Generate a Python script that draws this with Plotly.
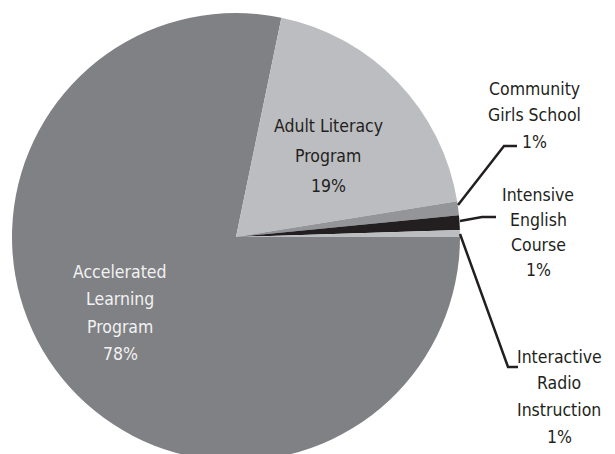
import plotly.graph_objects as go

# slices, clockwise from 3 o'clock
programs = ["Accelerated Learning Program", "Adult Literacy Program",
            "Community Girls School", "Intensive English Course",
            "Interactive Radio Instruction"]
shares = [78.25, 19.2, 1.0, 1.05, 0.5]
colors = ["#808184", "#bcbdc0", "#939598", "#231f20", "#bcbdc0"]

label_lines = [["Accelerated", "Learning", "Program", "78%"],
               ["Adult Literacy", "Program", "19%"],
               ["Community", "Girls School", "1%"],
               ["Intensive", "English", "Course", "1%"],
               ["Interactive", "Radio", "Instruction", "1%"]]

font = "DejaVu Sans Condensed, sans-serif"

# page sits 8px in from the window corner; everything below is in window pixels
W, H = 607, 460
OFF = 8

fig = go.Figure()
fig.add_trace(go.Pie(labels=programs, values=shares, sort=False,
                     direction="clockwise", rotation=90,
                     marker=dict(colors=colors, line=dict(width=0)),
                     textinfo="none", hoverinfo="label+percent",
                     domain=dict(x=[(12 - OFF) / W, (460 - OFF) / W],
                                 y=[(OFF + H - 461) / H, (OFF + H - 13) / H]),
                     showlegend=False))

# label blocks: centre x, centre of first line, line spacing
lab_x = [120, 328, 534, 538, 559]
lab_top = [272, 125.8, 89, 195, 356.7]
lab_gap = [27.3, 30, 26.3, 25, 26.7]
lab_col = ["#f2f2f2", "#231f20", "#231f20", "#231f20", "#231f20"]
for lines, x, t, g, c in zip(label_lines, lab_x, lab_top, lab_gap, lab_col):
    for i, line in enumerate(lines):
        fig.add_annotation(x=x, y=t + i * g, text=line, showarrow=False,
                           xref="x", yref="y", yanchor="middle",
                           font=dict(family=font, size=17.5, color=c))

# leader lines for the small slices
leaders = ["M 458,205 L 504,146 L 517,146",
           "M 460,221 L 482,217 L 496,217",
           "M 460,234 L 508,367 L 518,367"]
for p in leaders:
    fig.add_shape(type="path", path=p, xref="x", yref="y",
                  line=dict(color="#231f20", width=2.5))

fig.update_xaxes(range=[OFF, OFF + W], visible=False, fixedrange=True)
fig.update_yaxes(range=[OFF + H, OFF], visible=False, fixedrange=True)
fig.update_layout(width=W, height=H, margin=dict(l=0, r=0, t=0, b=0),
                  paper_bgcolor="white", plot_bgcolor="rgba(0,0,0,0)")
fig.write_html("out.html")
